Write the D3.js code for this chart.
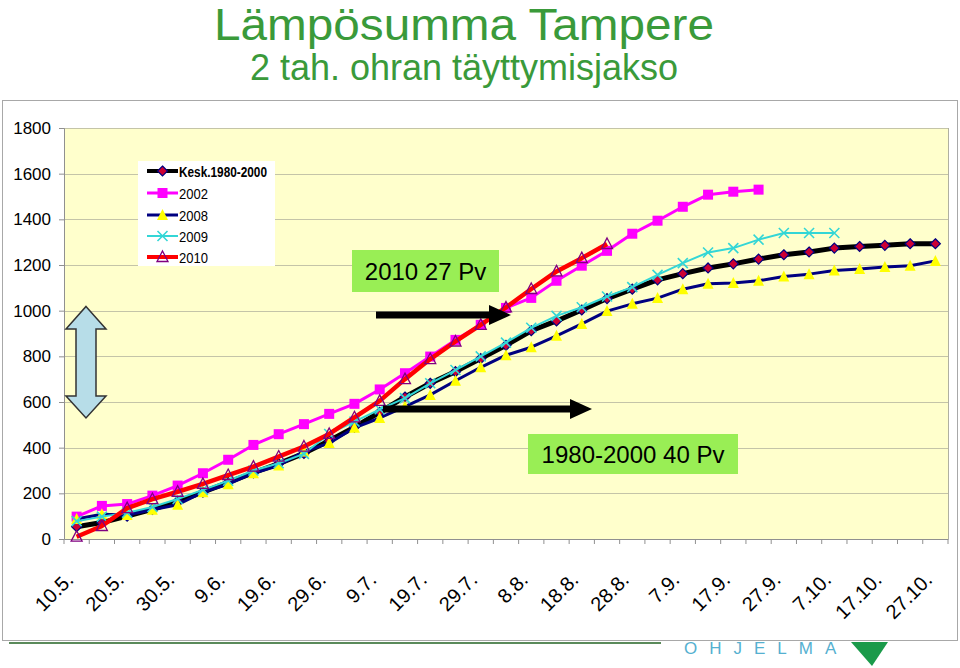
<!DOCTYPE html>
<html><head><meta charset="utf-8">
<script src="https://cdn.jsdelivr.net/npm/d3@7"></script>
<style>
body{margin:0;background:#fff;}
svg{display:block;font-family:Arial,"Liberation Sans",sans-serif;}
</style></head>
<body><svg id="c" width="960" height="668"></svg>
<script>
const categories = ["10.5.","15.5.","20.5.","25.5.","30.5.","4.6.","9.6.","14.6.","19.6.","24.6.","29.6.","4.7.","9.7.","14.7.","19.7.","24.7.","29.7.","3.8.","8.8.","13.8.","18.8.","23.8.","28.8.","2.9.","7.9.","12.9.","17.9.","22.9.","27.9.","2.10.","7.10.","12.10.","17.10.","22.10.","27.10."];
const kesk  = [54,72,100,130,165,205,248,290,330,375,430,490,555,622,682,733,790,848,912,955,1003,1053,1094,1135,1162,1187,1205,1226,1245,1257,1274,1281,1286,1293,1293];
const y2002 = [98,145,153,190,234,288,347,412,459,503,548,592,655,726,799,872,938,1012,1056,1131,1197,1262,1337,1394,1455,1508,1521,1530];
const y2008 = [88,108,105,128,150,205,240,288,322,383,420,487,530,580,631,693,752,805,840,890,942,998,1030,1055,1094,1118,1121,1131,1150,1160,1176,1182,1191,1197,1218];
const y2009 = [78,98,115,140,175,215,255,300,332,373,460,514,568,617,682,740,800,860,925,977,1015,1062,1103,1157,1208,1255,1274,1311,1340,1340,1340];
const y2010 = [10,57,135,175,207,241,280,317,361,405,460,533,605,700,788,865,938,1014,1095,1172,1230,1292];
const yTicks = [0,200,400,600,800,1000,1200,1400,1600,1800];
const seriesNames = ["Kesk.1980-2000","2002","2008","2009","2010"];
const titleText = "Lämpösumma Tampere";
const subtitleText = "2 tah. ohran täyttymisjakso";
const note1 = "2010 27 Pv";
const note2 = "1980-2000 40 Pv";

const svg = d3.select("#c");
const L = 64, R = 948, T = 128, B = 539;

// titles
svg.append("text").attr("x",464).attr("y",40).attr("text-anchor","middle")
  .attr("font-size",44).attr("fill","#3a9a3a")
  .attr("textLength",500).attr("lengthAdjust","spacingAndGlyphs").text(titleText);
svg.append("text").attr("x",464).attr("y",80).attr("text-anchor","middle")
  .attr("font-size",36).attr("fill","#3a9a3a").text(subtitleText);

// outer chart box
svg.append("rect").attr("x",2.5).attr("y",100.5).attr("width",955).attr("height",540)
  .attr("fill","#fff").attr("stroke","#a8a8a8");

// plot area
svg.append("rect").attr("x",L).attr("y",T).attr("width",R-L).attr("height",B-T)
  .attr("fill","#ffffcc");

const x = d3.scaleBand().domain(categories).range([L,R]).padding(0);
const xc = c => x(c) + x.bandwidth()/2;
const y = d3.scaleLinear().domain([0,1800]).range([B,T]);

// grid
svg.append("g").selectAll("line").data(yTicks.slice(1)).join("line")
  .attr("x1",L).attr("x2",R).attr("y1",d=>Math.round(y(d))+0.5).attr("y2",d=>Math.round(y(d))+0.5)
  .attr("stroke","#c4c4a8").attr("stroke-width",1);
svg.append("line").attr("x1",R+0.5).attr("x2",R+0.5).attr("y1",T).attr("y2",B).attr("stroke","#b0b0a0");

// y axis
const ya = svg.append("g").attr("transform",`translate(${L},0)`)
  .call(d3.axisLeft(y).tickValues(yTicks).tickFormat(d3.format("d")).tickSize(5).tickPadding(8));
ya.select(".domain").attr("stroke","#909090");
ya.selectAll(".tick line").attr("stroke","#909090");
ya.selectAll("text").attr("font-size",17).attr("fill","#000").attr("font-family","Arial,'Liberation Sans',sans-serif");

// x axis
const xa = svg.append("g").attr("transform",`translate(0,${B})`)
  .call(d3.axisBottom(x).tickSize(0).tickFormat(""));
xa.select(".domain").attr("stroke","#909090");
svg.append("g").selectAll("line").data(categories.concat(["__end"])).join("line")
  .attr("x1",(d,i)=>L+i*x.bandwidth()).attr("x2",(d,i)=>L+i*x.bandwidth())
  .attr("y1",B).attr("y2",B+5).attr("stroke","#909090");
svg.append("g").selectAll("text").data(categories.filter((d,i)=>i%2===0)).join("text")
  .attr("transform",d=>`translate(${xc(d)-2},581) rotate(-45)`)
  .attr("text-anchor","end").attr("font-size",20).attr("fill","#000").text(d=>d);

// series
const line = d3.line().x((d,i)=>xc(categories[i])).y(d=>y(d));
const specs = [
  {data:kesk, color:"#000000", w:5, marker:"diamond"},
  {data:y2002, color:"#ff00ff", w:3, marker:"square"},
  {data:y2008, color:"#000080", w:3, marker:"triangle"},
  {data:y2009, color:"#33d6d6", w:2, marker:"x"},
  {data:y2010, color:"#ff0000", w:4.5, marker:"tri2"}
];
function drawMarker(g, type, cx, cy){
  if(type==="diamond"){
    g.append("path").attr("d",`M${cx},${cy-5}L${cx+5},${cy}L${cx},${cy+5}L${cx-5},${cy}Z`)
      .attr("fill","#cc0033").attr("stroke","#000080").attr("stroke-width",1.2);
  } else if(type==="square"){
    g.append("rect").attr("x",cx-5).attr("y",cy-5).attr("width",10).attr("height",10).attr("fill","#ff00ff");
  } else if(type==="triangle"){
    g.append("path").attr("d",`M${cx},${cy-6}L${cx+5.5},${cy+5}L${cx-5.5},${cy+5}Z`).attr("fill","#ffff00");
  } else if(type==="x"){
    g.append("path").attr("d",`M${cx-5},${cy-5}L${cx+5},${cy+5}M${cx-5},${cy+5}L${cx+5},${cy-5}`)
      .attr("stroke","#33d6d6").attr("stroke-width",1.6);
  } else if(type==="tri2"){
    g.append("path").attr("d",`M${cx},${cy-6}L${cx+5.5},${cy+4.5}L${cx-5.5},${cy+4.5}Z`)
      .attr("fill","none").attr("stroke","#800080").attr("stroke-width",1.3);
  }
}
specs.forEach(s=>{
  const g = svg.append("g");
  g.append("path").datum(s.data).attr("d",line).attr("fill","none")
    .attr("stroke",s.color).attr("stroke-width",s.w).attr("stroke-linejoin","round");
  s.data.forEach((v,i)=>drawMarker(g,s.marker,xc(categories[i]),y(v)));
});

// legend
const lg = svg.append("g");
lg.append("rect").attr("x",138).attr("y",161).attr("width",137).attr("height",105).attr("fill","#fff");
const rowsY = [171,193,215,236,257];
specs.forEach((s,i)=>{
  const yy = rowsY[i];
  lg.append("line").attr("x1",147).attr("x2",178).attr("y1",yy).attr("y2",yy)
    .attr("stroke",s.color).attr("stroke-width",s.w>4?4:s.w);
  drawMarker(lg,s.marker,162.5,yy);
  const t = lg.append("text").attr("x",179).attr("y",yy+5.5).attr("font-size",15).attr("fill","#000")
    .text(seriesNames[i]);
  if(i===0) t.attr("font-weight","bold").attr("font-size",14).attr("textLength",88).attr("lengthAdjust","spacingAndGlyphs");
  else t.attr("textLength",29).attr("lengthAdjust","spacingAndGlyphs");
});

// annotations
svg.append("rect").attr("x",352).attr("y",250).attr("width",147).attr("height",42).attr("fill","#99ee55");
svg.append("text").attr("x",425.5).attr("y",280).attr("text-anchor","middle").attr("font-size",24).text(note1);
svg.append("rect").attr("x",528).attr("y",434).attr("width",210).attr("height",40).attr("fill","#99ee55");
svg.append("text").attr("x",633).attr("y",463).attr("text-anchor","middle").attr("font-size",24).text(note2);

function arrow(x1,x2,yy){
  svg.append("rect").attr("x",x1).attr("y",yy-3.5).attr("width",x2-x1-20).attr("height",7).attr("fill","#000");
  svg.append("path").attr("d",`M${x2-22},${yy-10}L${x2},${yy}L${x2-22},${yy+10}Z`).attr("fill","#000");
}
arrow(376,511,315);
arrow(383,592,409);

// double arrow
svg.append("path").attr("d","M86,306.5L106,329L96,329L96,396L106,396L86,418L66,396L76,396L76,329L66,329Z")
  .attr("fill","#b7dde8").attr("stroke","#333").attr("stroke-width",1.5);

// footer
svg.append("line").attr("x1",9).attr("x2",661).attr("y1",643).attr("y2",643).attr("stroke","#5a8a5a").attr("stroke-width",2);
svg.append("text").attr("x",684).attr("y",654).attr("font-size",17).attr("fill","#55b0d0")
  .attr("letter-spacing",12).text("OHJELMA");
svg.append("path").attr("d","M851,642L888,642L872,666Z").attr("fill","#1a9a4a");
</script></body></html>
